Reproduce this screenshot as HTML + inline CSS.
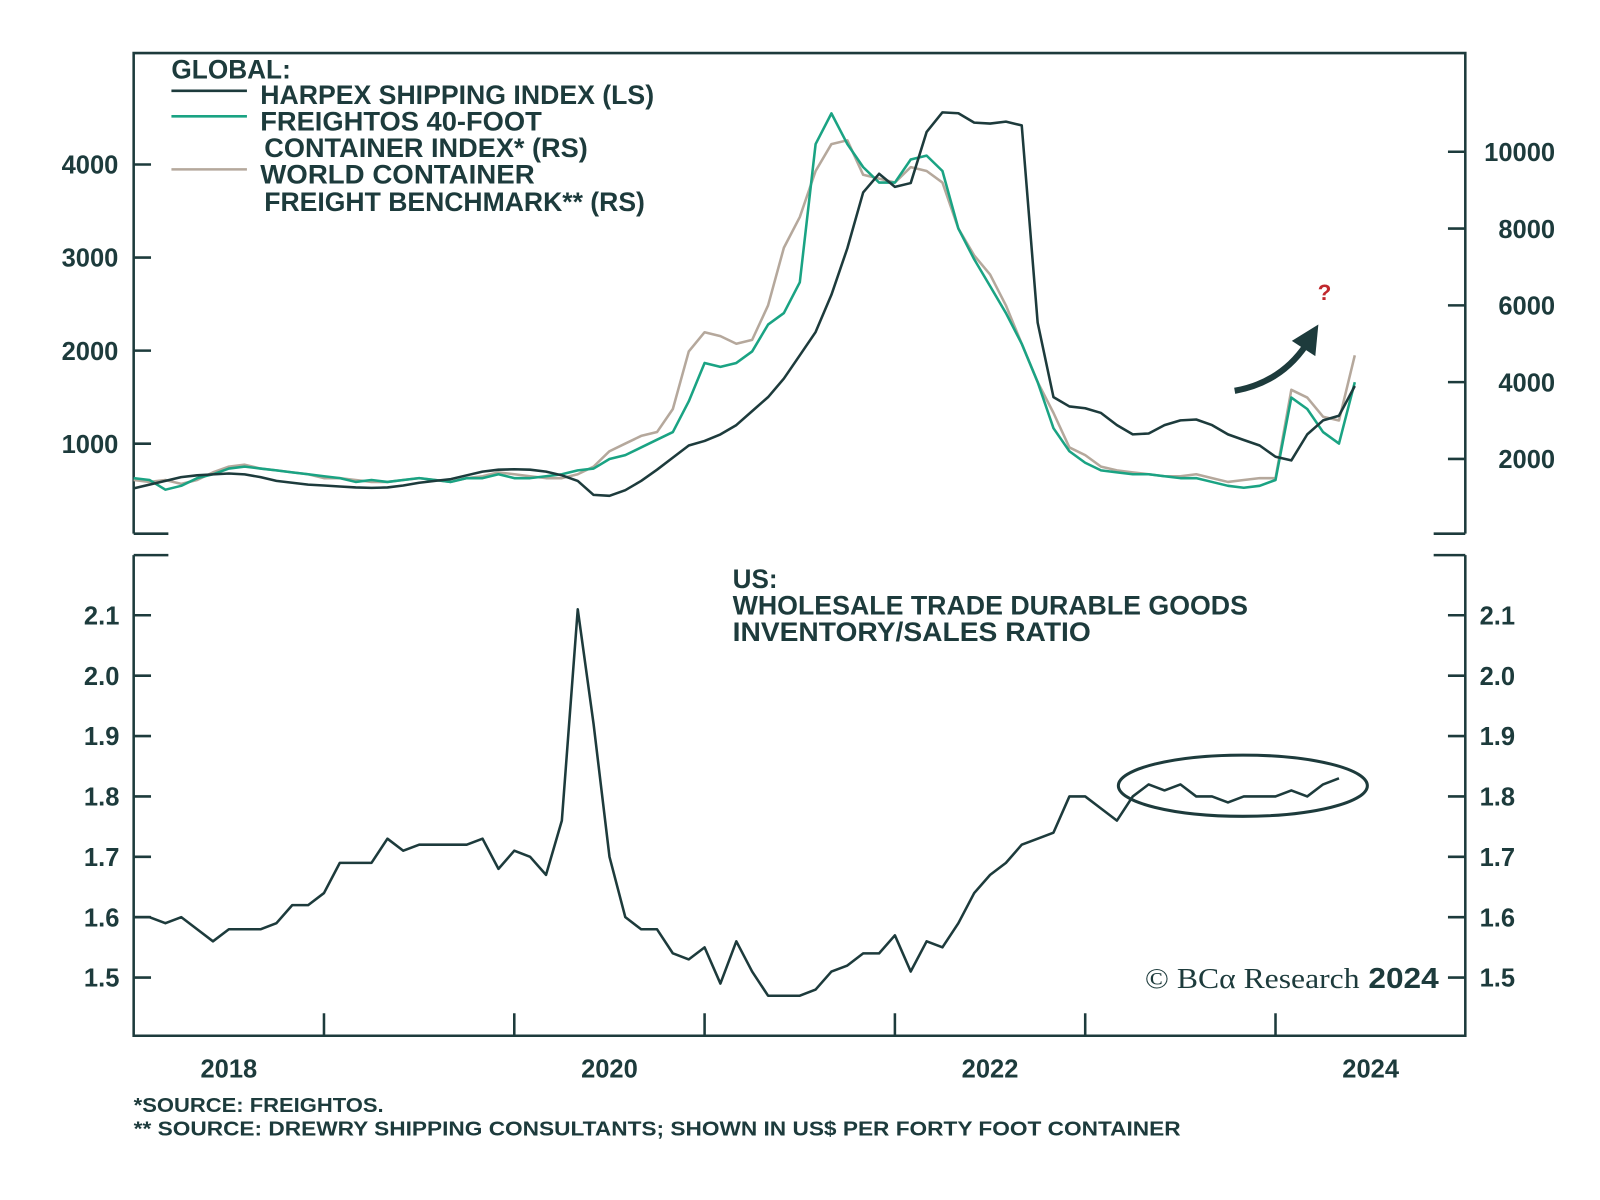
<!DOCTYPE html>
<html><head><meta charset="utf-8"><style>
html,body{margin:0;padding:0;background:#fff;}
svg{display:block;}
text{font-family:"Liberation Sans",sans-serif;font-weight:bold;fill:#1d3b3c;}
</style></head><body>
<svg id="chart" width="1600" height="1200" viewBox="0 0 1568 1176" xmlns="http://www.w3.org/2000/svg">
<g id="frames" stroke="#1d3b3c" stroke-width="2.5" fill="none">
<path d="M131,523 V52 H1436 V523"/>
<path d="M131,523 H165 M1405,523 H1436"/>
<path d="M131,544 V1015 H1436 V544 M131,544 H165 M1405,544 H1436"/>
</g>
<g id="ticks"></g>
<g id="series"></g>
<g font-size="26">
<text x="168" y="77" textLength="117" lengthAdjust="spacingAndGlyphs">GLOBAL:</text>
<line x1="168" y1="89" x2="242" y2="89" stroke="#1d3b3c" stroke-width="2.5"/>
<text x="255" y="102" textLength="386" lengthAdjust="spacingAndGlyphs">HARPEX SHIPPING INDEX (LS)</text>
<line x1="168" y1="114" x2="242" y2="114" stroke="#1aa383" stroke-width="2.5"/>
<text x="255" y="128" textLength="276" lengthAdjust="spacingAndGlyphs">FREIGHTOS 40-FOOT</text>
<text x="259" y="154" textLength="317" lengthAdjust="spacingAndGlyphs">CONTAINER INDEX* (RS)</text>
<line x1="168" y1="166" x2="242" y2="166" stroke="#b5a89c" stroke-width="2.5"/>
<text x="255" y="180" textLength="269" lengthAdjust="spacingAndGlyphs">WORLD CONTAINER</text>
<text x="259" y="207" textLength="373" lengthAdjust="spacingAndGlyphs">FREIGHT BENCHMARK** (RS)</text>
</g>
<g font-size="26">
<text x="718" y="576" textLength="44" lengthAdjust="spacingAndGlyphs">US:</text>
<text x="718" y="602" textLength="505" lengthAdjust="spacingAndGlyphs">WHOLESALE TRADE DURABLE GOODS</text>
<text x="718" y="628" textLength="351" lengthAdjust="spacingAndGlyphs">INVENTORY/SALES RATIO</text>
</g>
<path d="M1210,383 Q1255,375 1280,338" stroke="#1d3b3c" stroke-width="6" fill="none"/>
<polygon points="1292,318 1266,334 1289,349" fill="#1d3b3c"/>
<text x="1298" y="294" font-size="22" style="fill:#c0282d" text-anchor="middle">?</text>
<ellipse cx="1218" cy="770" rx="122" ry="30" stroke="#1d3b3c" stroke-width="3" fill="none"/>
<text x="1122" y="968" font-size="28" textLength="288" lengthAdjust="spacingAndGlyphs"><tspan style="font-family:'Liberation Serif',serif;font-weight:normal">© BCα Research</tspan> 2024</text>
<text x="131" y="1090" font-size="20" textLength="245" lengthAdjust="spacingAndGlyphs">*SOURCE: FREIGHTOS.</text>
<text x="131" y="1113" font-size="20" textLength="1026" lengthAdjust="spacingAndGlyphs">** SOURCE: DREWRY SHIPPING CONSULTANTS; SHOWN IN US$ PER FORTY FOOT CONTAINER</text>
</svg>
<script>
const years=["2018","2020","2022","2024"];
const leftTicks=[1000,2000,3000,4000];
const rightTicks=[2000,4000,6000,8000,10000];
const ratioTicks=[1.5,1.6,1.7,1.8,1.9,2.0,2.1];
const harpex=[520,560,600,640,660,670,680,670,640,600,580,560,
550,540,530,525,530,550,580,600,620,660,700,720,
725,720,700,660,600,450,440,500,600,720,850,980,
1030,1100,1200,1350,1500,1700,1950,2200,2600,3100,3700,3900,
3760,3800,4350,4560,4550,4450,4440,4460,4420,2300,1500,1400,
1380,1330,1200,1100,1110,1200,1250,1260,1200,1100,1040,980,
860,820,1100,1250,1300,1620];
const freightos=[1500,1450,1200,1300,1500,1600,1750,1800,1750,1700,1650,1600,
1550,1500,1400,1450,1400,1450,1500,1450,1400,1500,1500,1600,
1500,1500,1550,1600,1700,1750,2000,2100,2300,2500,2700,3500,
4500,4400,4500,4800,5500,5800,6600,10200,11000,10200,9600,9200,
9200,9800,9900,9500,8000,7200,6500,5800,5000,4000,2800,2200,
1900,1700,1650,1600,1600,1550,1500,1500,1400,1300,1250,1300,
1450,3600,3300,2700,2400,4000];
const wcfb=[1450,1400,1450,1350,1450,1650,1800,1850,1750,1700,1650,1600,
1500,1500,1450,1400,1400,1450,1500,1450,1400,1500,1550,1650,
1600,1550,1500,1500,1600,1800,2200,2400,2600,2700,3300,4800,
5300,5200,5000,5100,6000,7500,8300,9500,10200,10300,9400,9300,
9200,9600,9500,9200,8000,7300,6800,6000,5000,4000,3200,2300,
2100,1800,1700,1650,1600,1550,1550,1600,1500,1400,1450,1500,
1500,3800,3600,3100,3000,4700];
const ratio=[1.60,1.60,1.59,1.60,1.58,1.56,1.58,1.58,1.58,1.59,1.62,1.62,
1.64,1.69,1.69,1.69,1.73,1.71,1.72,1.72,1.72,1.72,1.73,1.68,
1.71,1.70,1.67,1.76,2.11,1.92,1.70,1.60,1.58,1.58,1.54,1.53,
1.55,1.49,1.56,1.51,1.47,1.47,1.47,1.48,1.51,1.52,1.54,1.54,
1.57,1.51,1.56,1.55,1.59,1.64,1.67,1.69,1.72,1.73,1.74,1.80,
1.80,1.78,1.76,1.80,1.82,1.81,1.82,1.80,1.80,1.79,1.80,1.80,
1.80,1.81,1.80,1.82,1.83];
const NS="http://www.w3.org/2000/svg";
const x=t=>131+(t-2018)*186.5;
const yL=v=>526-v*0.0912;
const yR=v=>525-v*0.037625;
const yB=v=>958-(v-1.5)*591.7;
const tk=document.getElementById('ticks');
function mk(tag,attrs,parent){const e=document.createElementNS(NS,tag);for(const k in attrs)e.setAttribute(k,attrs[k]);parent.appendChild(e);return e;}
leftTicks.forEach(v=>{
 const l=mk('line',{x1:131,x2:148,y1:yL(v),y2:yL(v),stroke:'#1d3b3c','stroke-width':2.5},tk);
 
 
 const t=mk('text',{x:116,y:yL(v)+9,'text-anchor':'end','font-size':25},tk);t.textContent=v;
 
 
});
rightTicks.forEach(v=>{
 const l=mk('line',{x1:1419,x2:1436,y1:yR(v),y2:yR(v),stroke:'#1d3b3c','stroke-width':2.5},tk);
 
 
 const t=mk('text',{x:1524,y:yR(v)+9,'text-anchor':'end','font-size':25},tk);t.textContent=v;
 
 
});
ratioTicks.forEach(v=>{
 [[131,148,117,'end'],[1419,1436,1450,'start']].forEach(([a,b,tx,an])=>{
 const l=mk('line',{x1:a,x2:b,y1:yB(v),y2:yB(v),stroke:'#1d3b3c','stroke-width':2.5},tk);
 
 
 const t=mk('text',{x:tx,y:yB(v)+9,'text-anchor':an,'font-size':25},tk);t.textContent=v.toFixed(1);
 
 
 });
});
for(let yr=2019;yr<=2024;yr++){
 const l=mk('line',{x1:x(yr),x2:x(yr),y1:1015,y2:993,stroke:'#1d3b3c','stroke-width':2.5},tk);
 
 
}
years.forEach(y=>{
 const t=mk('text',{x:x(+y+0.5),y:1056,'text-anchor':'middle','font-size':25},tk);t.textContent=y;
 
 
});
const sg=document.getElementById('series');
function line(arr,yf,color,name,w){
 const d=arr.map((v,i)=>(i?'L':'M')+x(2018+i/12).toFixed(1)+','+yf(v).toFixed(1)).join(' ');
 const p=mk('path',{d:d,stroke:color,'stroke-width':w,fill:'none','stroke-linejoin':'round'},sg);
 
 
}
line(wcfb,yR,'#b5a89c','wcfb-line',2.5);
line(freightos,yR,'#1aa383','freightos-line',2.5);
line(harpex,yL,'#1d3b3c','harpex-line',2.5);
line(ratio,yB,'#1d3b3c','inventory-sales-ratio-line',2.5);
</script>
</body></html>
